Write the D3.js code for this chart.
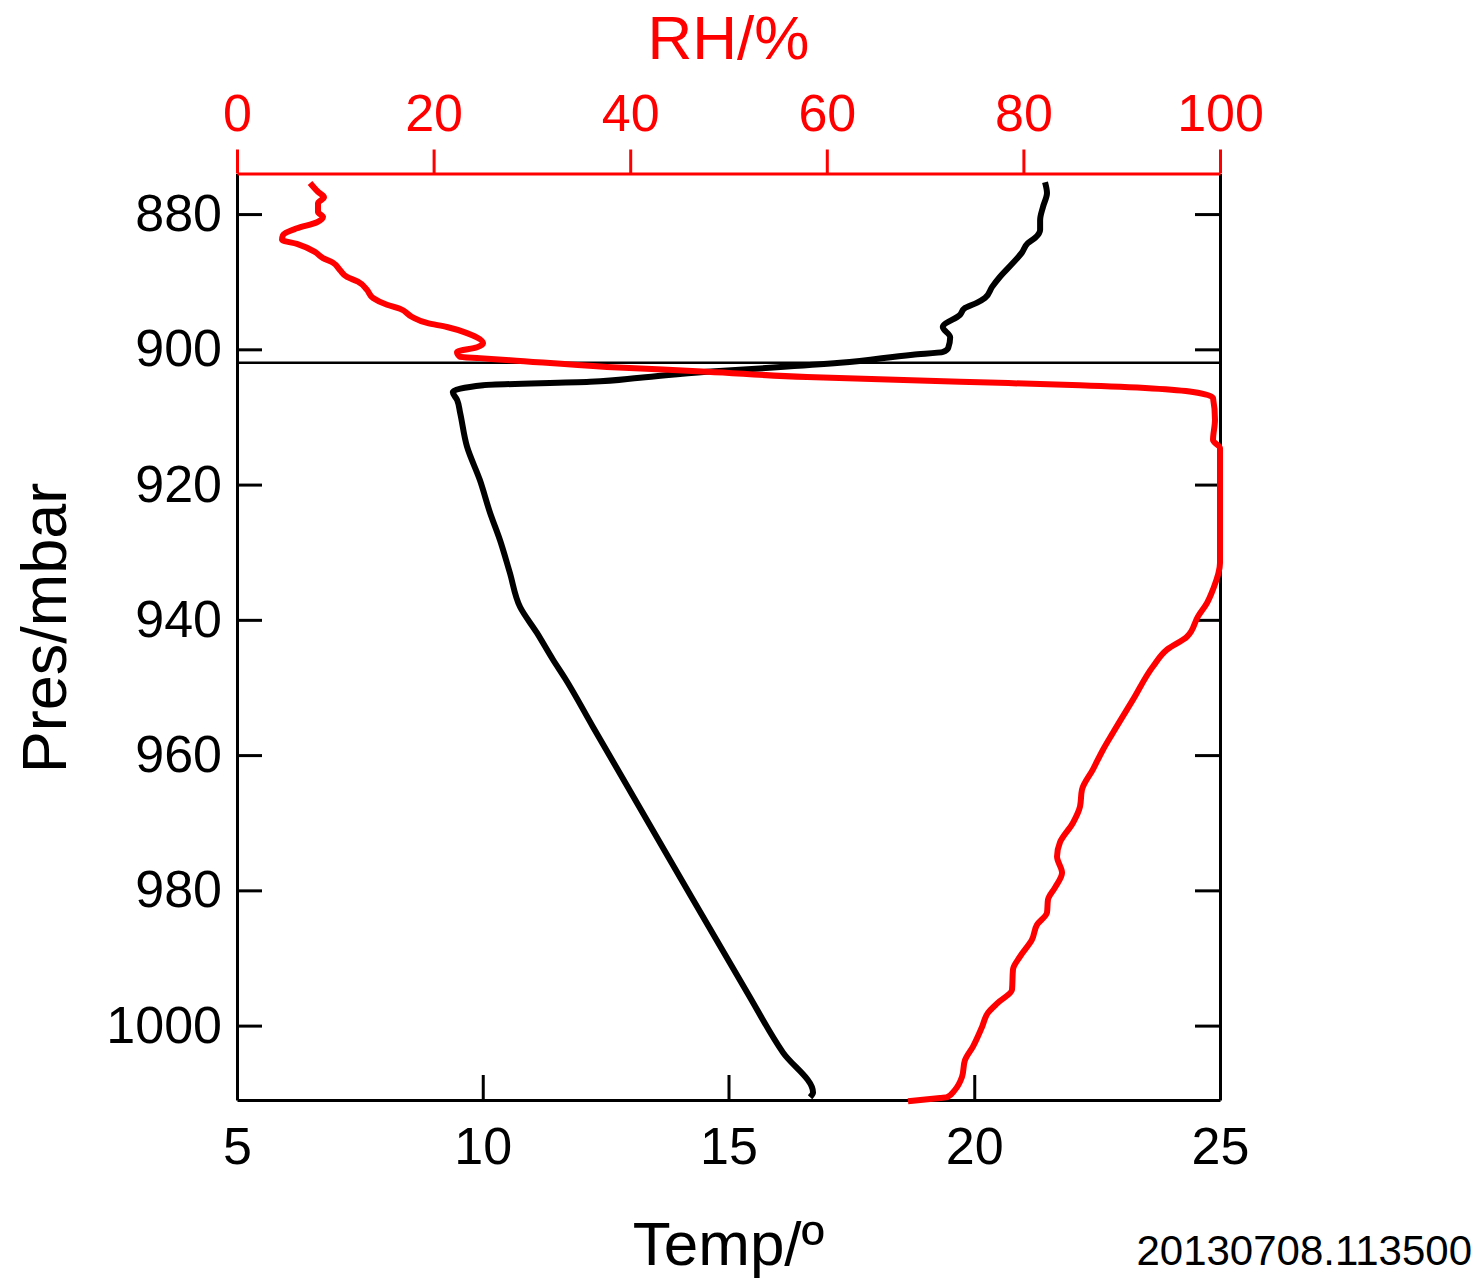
<!DOCTYPE html>
<html>
<head>
<meta charset="utf-8">
<script src="https://cdn.jsdelivr.net/npm/d3@7/dist/d3.min.js"></script>
<style>
    body { margin: 0; background: #fff; }
    svg { display: block; font-family: "Liberation Sans", Arial, Helvetica, sans-serif; }
    .axis path, .axis line { stroke-width: 3; }
</style>
</head>
<body>
<svg id="chart" width="1484" height="1282"></svg>
<script>
(function() {

    //  Temperature profile (pressure mbar, temperature deg)
    var tempPres = [875.3, 876.9, 878.9, 880.9, 882.3, 883.5, 884.3, 885.7, 887.2, 889.3,
        890.8, 892.4, 893.1, 893.9, 894.9, 896.7, 898.2, 899.8, 900.4, 900.8,
        902.0, 902.7, 903.3, 904.2, 904.8, 905.3, 906.3, 907.5, 909.4, 914.4,
        919.3, 924.2, 928.2, 933.0, 938.1, 941.9, 945.9, 948.6, 955.8, 975.5,
        995.1, 1004.0, 1009.9, 1010.6];
    var tempValues = [21.44, 21.48, 21.40, 21.34, 21.34, 21.24, 21.09, 20.97, 20.79, 20.52,
        20.36, 20.22, 20.06, 19.81, 19.71, 19.36, 19.51, 19.47, 19.36, 18.75,
        17.27, 15.91, 14.56, 13.20, 12.18, 10.01, 9.39, 9.48, 9.54, 9.68,
        9.94, 10.15, 10.35, 10.55, 10.76, 11.10, 11.43, 11.67, 12.24, 13.81,
        15.38, 16.11, 16.72, 16.66];

    //  Relative humidity profile (pressure mbar, RH %)
    var rhPres = [875.4, 876.7, 877.5, 878.4, 879.7, 880.4, 881.2, 882.1, 883.1, 883.8,
        884.4, 885.6, 886.5, 887.2, 888.3, 889.3, 890.0, 891.2, 892.4, 893.4,
        894.0, 895.2, 896.1, 896.7, 897.6, 899.1, 899.7, 900.4, 901.1, 901.3,
        901.6, 902.6, 903.3, 904.1, 904.8, 905.3, 906.3, 907.2, 910.4, 913.4,
        914.6, 931.6, 935.5, 937.5, 939.5, 942.5, 944.4, 946.9, 951.8, 956.7,
        959.2, 962.1, 965.1, 967.6, 970.0, 972.9, 975.0, 977.4, 979.6, 981.4,
        983.3, 985.1, 987.3, 989.8, 991.7, 994.7, 996.6, 998.1, 1000.2, 1003.1,
        1005.1, 1007.6, 1009.5, 1010.6, 1010.7, 1011.2];
    var rhValues = [7.43, 8.24, 8.85, 8.24, 8.24, 8.75, 8.14, 6.10, 4.68, 4.58,
        6.10, 7.93, 8.75, 9.77, 10.48, 11.19, 12.31, 13.22, 13.84, 15.26,
        16.58, 17.80, 19.33, 21.36, 23.40, 25.03, 24.42, 22.38, 22.69, 24.72,
        27.77, 37.64, 47.81, 57.99, 73.55, 85.76, 97.25, 99.29, 99.49, 99.29,
        100, 100, 99.29, 98.68, 97.76, 96.64, 94.61, 93.18, 91.15, 89.11,
        88.10, 87.08, 85.96, 85.76, 85.05, 83.72, 83.42, 83.93, 83.21, 82.50,
        82.40, 81.38, 80.87, 79.65, 78.94, 78.84, 77.42, 76.40, 75.79, 74.87,
        74.06, 73.75, 73.04, 72.23, 71.52, 68.26];

    //  Axis ticks, labels and markers
    var presTicks = [880, 900, 920, 940, 960, 980, 1000];
    var tempTicks = [5, 10, 15, 20, 25];
    var rhTicks = [0, 20, 40, 60, 80, 100];
    var cloudBase = 902.0;
    var stamp = '20130708.113500';

    var margin = { left: 237, right: 1220, top: 173.5, bottom: 1100 };

    //  define the chart scales
    var scale = {
        temp: d3.scaleLinear().domain([5, 25]).range([margin.left, margin.right]),
        rh: d3.scaleLinear().domain([0, 100]).range([margin.left, margin.right]),
        pres: d3.scaleLinear().domain([874, 1011]).range([margin.top, margin.bottom])
    };

    var svg = d3.select('#chart');

    //  Axes
    svg.append('g')
        .attr('class', 'axis')
        .attr('transform', 'translate(' + margin.left + ',0)')
        .call(d3.axisLeft(scale.pres).tickValues(presTicks).tickFormat(d3.format('d'))
            .tickSize(-25).tickSizeOuter(0).tickPadding(15))
        .call(styleAxis, '#000');

    svg.append('g')
        .attr('class', 'axis')
        .attr('transform', 'translate(' + margin.right + ',0)')
        .call(d3.axisRight(scale.pres).tickValues(presTicks).tickSize(-25).tickSizeOuter(0).tickFormat(''))
        .call(styleAxis, '#000');

    svg.append('g')
        .attr('class', 'axis')
        .attr('transform', 'translate(0,' + margin.bottom + ')')
        .call(d3.axisBottom(scale.temp).tickValues(tempTicks).tickSize(-25).tickSizeOuter(0).tickPadding(27))
        .call(styleAxis, '#000');

    svg.append('g')
        .attr('class', 'axis')
        .attr('transform', 'translate(0,' + margin.top + ')')
        .call(d3.axisTop(scale.rh).tickValues(rhTicks).tickSize(24).tickSizeOuter(0).tickPadding(19))
        .call(styleAxis, '#ff0000');

    function styleAxis(g, color) {
        g.select('.domain').attr('stroke', color);
        g.selectAll('.tick line').attr('stroke', color);
        g.selectAll('.tick text')
            .attr('fill', color)
            .attr('font-size', 52)
            .attr('font-family', '"Liberation Sans", Arial, Helvetica, sans-serif');
    }

    //  Horizontal marker line
    svg.append('line')
        .attr('x1', scale.temp(5)).attr('x2', scale.temp(25))
        .attr('y1', scale.pres(cloudBase)).attr('y2', scale.pres(cloudBase))
        .attr('stroke', '#000')
        .attr('stroke-width', 2.5);

    //  Profile lines (pressure increases monotonically down the page)
    var tempLine = d3.line()
        .curve(d3.curveMonotoneY)
        .x(function(d, i) { return scale.temp(tempValues[i]); })
        .y(function(d) { return scale.pres(d); });

    var rhLine = d3.line()
        .curve(d3.curveMonotoneY)
        .x(function(d, i) { return scale.rh(rhValues[i]); })
        .y(function(d) { return scale.pres(d); });

    svg.append('path')
        .datum(tempPres)
        .attr('d', tempLine)
        .attr('fill', 'none')
        .attr('stroke', '#000')
        .attr('stroke-width', 6)
        .attr('stroke-linejoin', 'round');

    svg.append('path')
        .datum(rhPres)
        .attr('d', rhLine)
        .attr('fill', 'none')
        .attr('stroke', '#ff0000')
        .attr('stroke-width', 6)
        .attr('stroke-linejoin', 'round');

    //  Titles
    svg.append('text')
        .attr('x', (margin.left + margin.right) / 2).attr('y', 59)
        .attr('text-anchor', 'middle')
        .attr('font-size', 62)
        .attr('fill', '#ff0000')
        .text('RH/%');

    svg.append('text')
        .attr('x', (margin.left + margin.right) / 2).attr('y', 1265)
        .attr('text-anchor', 'middle')
        .attr('font-size', 62)
        .attr('fill', '#000')
        .text('Temp/º');

    svg.append('text')
        .attr('transform', 'translate(66,628) rotate(-90)')
        .attr('text-anchor', 'middle')
        .attr('font-size', 63)
        .attr('fill', '#000')
        .text('Pres/mbar');

    svg.append('text')
        .attr('x', 1472).attr('y', 1265)
        .attr('text-anchor', 'end')
        .attr('font-size', 42)
        .attr('fill', '#000')
        .text(stamp);

})();
</script>
</body>
</html>
